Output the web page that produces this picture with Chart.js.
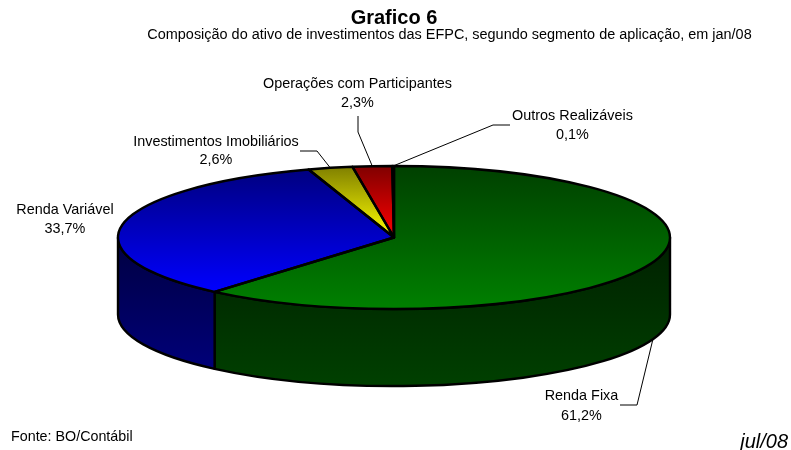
<!DOCTYPE html>
<html>
<head>
<meta charset="utf-8">
<style>html,body{margin:0;padding:0;background:#fff}canvas{display:block}</style>
<script src="https://cdn.jsdelivr.net/npm/chart.js@4"></script>
</head>
<body>
<div style="width:791px;height:450px"><canvas id="c" width="791" height="450"></canvas></div>
<script>
const categories = ['Renda Fixa', 'Renda Variável', 'Investimentos Imobiliários', 'Operações com Participantes', 'Outros Realizáveis'];
const shares = [61.2, 33.7, 2.6, 2.3, 0.1];
const brightColors = ['#008000', '#0000ff', '#ffff00', '#ff0000', '#808080'];
const darkColors = ['#004000', '#000080', '#808000', '#800000', '#404040'];
const sideTopColors = ['#002000', '#000040', '#404000', '#400000', '#202020'];
const sideBottomColors = ['#004000', '#000080', '#808000', '#800000', '#404040'];
const chartTitle = 'Grafico 6';
const chartSubtitle = 'Composição do ativo de investimentos das EFPC, segundo segmento de aplicação, em jan/08';
const sourceNote = 'Fonte: BO/Contábil';
const dateNote = 'jul/08';

// layout of the label block: centre x, first-line y, line gap, optional leader elbow points
const labelBoxes = [
  {x: 581.5, y: 396, gap: 20.5, leader: [[620, 405], [637, 405]]},
  {x: 65, y: 210, gap: 19, leader: null},
  {x: 216, y: 142, gap: 18.5, leader: [[300, 151], [317, 151]]},
  {x: 357.5, y: 84, gap: 19, leader: [[358, 116], [358, 132]]},
  {x: 572.5, y: 116, gap: 19, leader: [[510, 125], [493, 125]]}
];
const PIE = {radius: 276, cy: 237.5, ry: 71.5, depth: 77};
const FONT = '"Liberation Sans", Arial, sans-serif';

function topGradient(ctx) {
  const chart = ctx.chart, i = ctx.dataIndex, area = chart.chartArea;
  if (!area) return brightColors[i];
  const total = shares.reduce((a, b) => a + b, 0);
  const before = shares.slice(0, i).reduce((a, b) => a + b, 0);
  const a0 = -Math.PI / 2 + before / total * 2 * Math.PI;
  const a1 = a0 + shares[i] / total * 2 * Math.PI;
  let lo = Math.min(0, Math.sin(a0), Math.sin(a1));
  let hi = Math.max(0, Math.sin(a0), Math.sin(a1));
  if (a0 < -Math.PI / 2 + 1e-9) lo = -1;
  if (a0 < Math.PI / 2 && a1 > Math.PI / 2) hi = 1;
  if (a0 < 3 * Math.PI / 2 && a1 > 3 * Math.PI / 2) lo = -1;
  const cy = (area.top + area.bottom) / 2;
  const g = chart.ctx.createLinearGradient(0, cy + lo * PIE.radius, 0, cy + hi * PIE.radius);
  g.addColorStop(0, darkColors[i]);
  g.addColorStop(1, brightColors[i]);
  return g;
}

const pie3d = {
  id: 'pie3d',
  beforeDatasetsDraw(chart) {
    const ctx = chart.ctx;
    const arcs = chart.getDatasetMeta(0).data;
    arcs.forEach((el, i) => {
      const a0 = Math.max(el.startAngle, 0), a1 = Math.min(el.endAngle, Math.PI);
      if (a1 <= a0) return;
      const cx = el.x, r = el.outerRadius;
      ctx.save();
      ctx.beginPath();
      ctx.ellipse(cx, PIE.cy, r, PIE.ry, 0, a0, a1);
      ctx.ellipse(cx, PIE.cy + PIE.depth, r, PIE.ry, 0, a1, a0, true);
      ctx.closePath();
      const g = ctx.createLinearGradient(0, PIE.cy, 0, PIE.cy + PIE.ry + PIE.depth);
      g.addColorStop(0, sideTopColors[i]);
      g.addColorStop(1, sideBottomColors[i]);
      ctx.fillStyle = g;
      ctx.fill();
      ctx.lineWidth = 2.4;
      ctx.lineJoin = 'round';
      ctx.strokeStyle = '#000';
      ctx.stroke();
      ctx.restore();
    });
  },
  beforeDatasetDraw(chart) {
    const ctx = chart.ctx, el = chart.getDatasetMeta(0).data[0];
    ctx.save();
    ctx.translate(0, PIE.cy);
    ctx.scale(1, PIE.ry / el.outerRadius);
    ctx.translate(0, -el.y);
  },
  afterDatasetDraw(chart) {
    const ctx = chart.ctx;
    ctx.restore();
    chart.getDatasetMeta(0).data.forEach((el) => {
      ctx.save();
      ctx.beginPath();
      ctx.moveTo(el.x, PIE.cy);
      ctx.ellipse(el.x, PIE.cy, el.outerRadius, PIE.ry, 0, el.startAngle, el.endAngle);
      ctx.closePath();
      ctx.lineWidth = 2.4;
      ctx.lineJoin = 'round';
      ctx.strokeStyle = '#000';
      ctx.stroke();
      ctx.restore();
    });
  },
  afterDraw(chart) {
    const ctx = chart.ctx;
    const arcs = chart.getDatasetMeta(0).data;
    ctx.save();
    ctx.fillStyle = '#000';
    ctx.textAlign = 'center';
    ctx.textBaseline = 'middle';
    ctx.font = '14.4px ' + FONT;
    categories.forEach((name, i) => {
      const box = labelBoxes[i], el = arcs[i];
      ctx.fillText(name, box.x, box.y);
      ctx.fillText(shares[i].toFixed(1).replace('.', ',') + '%', box.x, box.y + box.gap);
      if (!box.leader) return;
      const mid = (el.startAngle + el.endAngle) / 2;
      const ax = el.x + el.outerRadius * Math.cos(mid);
      const ay = PIE.cy + PIE.ry * Math.sin(mid) + (Math.sin(mid) > 0 ? PIE.depth : 0);
      ctx.beginPath();
      ctx.moveTo(box.leader[0][0], box.leader[0][1]);
      ctx.lineTo(box.leader[1][0], box.leader[1][1]);
      ctx.lineTo(ax, ay);
      ctx.lineWidth = 1;
      ctx.strokeStyle = '#000';
      ctx.stroke();
    });
    ctx.font = '14.45px ' + FONT;
    ctx.fillText(chartSubtitle, 449.5, 35);
    ctx.textAlign = 'left';
    ctx.font = '14.3px ' + FONT;
    ctx.fillText(sourceNote, 11, 437);
    ctx.textAlign = 'right';
    ctx.font = 'italic 20px ' + FONT;
    ctx.fillText(dateNote, 788, 442);
    ctx.restore();
  }
};

new Chart(document.getElementById('c'), {
  type: 'pie',
  data: {
    labels: categories,
    datasets: [{
      data: shares,
      backgroundColor: topGradient,
      borderWidth: 0,
      clip: false
    }]
  },
  plugins: [pie3d],
  options: {
    responsive: false,
    animation: false,
    radius: PIE.radius,
    layout: {padding: {left: 0, right: 3, top: 0, bottom: 0}},
    events: [],
    plugins: {
      legend: {display: false},
      tooltip: {enabled: false},
      title: {
        display: true,
        text: chartTitle,
        color: '#000',
        font: {family: FONT, size: 20, weight: 'bold'},
        padding: {top: 6, bottom: 0}
      }
    }
  }
});
</script>
</body>
</html>
